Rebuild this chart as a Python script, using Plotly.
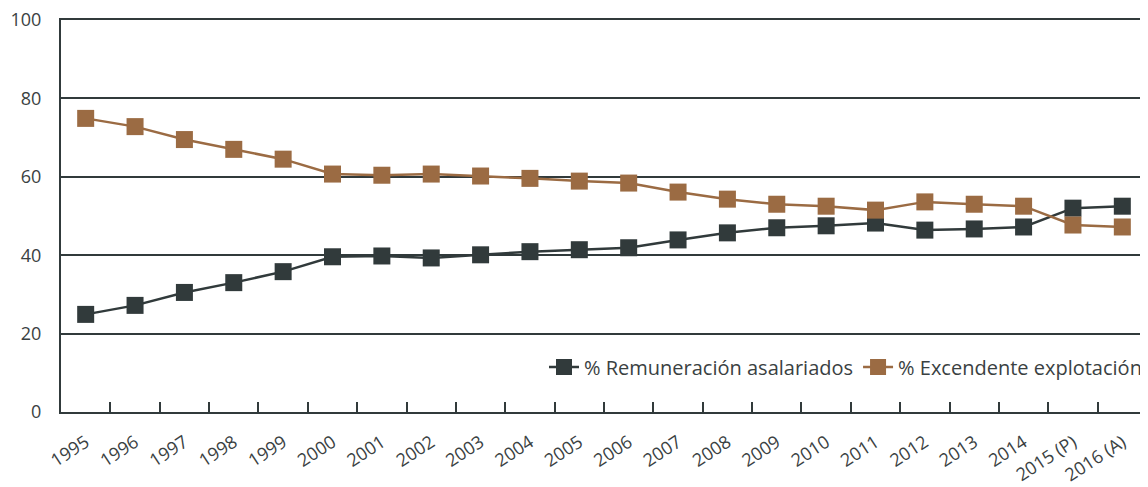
import plotly.graph_objects as go

# Jahre / Kategorien
anios = ["1995", "1996", "1997", "1998", "1999", "2000", "2001", "2002", "2003", "2004",
         "2005", "2006", "2007", "2008", "2009", "2010", "2011", "2012", "2013", "2014",
         "2015 (P)", "2016 (A)"]

remuneracion = [24.9, 27.2, 30.5, 33.0, 35.8, 39.6, 39.8, 39.3, 40.1, 40.9,
                41.4, 41.9, 43.9, 45.7, 47.0, 47.5, 48.2, 46.4, 46.7, 47.2,
                52.0, 52.5]

excedente = [74.9, 72.8, 69.5, 67.0, 64.5, 60.7, 60.4, 60.7, 60.2, 59.6,
             58.9, 58.4, 56.1, 54.3, 53.0, 52.5, 51.5, 53.6, 53.0, 52.5,
             47.7, 47.2]

y_ticks = [0, 20, 40, 60, 80, 100]

dunkel = "#313a3b"
braun = "#9b6b43"
text_farbe = "#3a4142"

fig = go.Figure()
fig.add_scatter(x=anios, y=remuneracion, mode="lines+markers", name="% Remuneración asalariados",
                line=dict(color=dunkel, width=2.5),
                marker=dict(symbol="square", size=17, color=dunkel))
fig.add_scatter(x=anios, y=excedente, mode="lines+markers", name="% Excendente explotación",
                line=dict(color=braun, width=2.5),
                marker=dict(symbol="square", size=17, color=braun))

# die Seite hat 8px Rand -> Figur etwas kleiner
fig.update_layout(
    width=1140, height=479,
    margin=dict(l=53, r=1, t=12, b=75),
    plot_bgcolor="white", paper_bgcolor="white",
    font=dict(family="Open Sans", size=18, color=text_farbe),
    showlegend=True,
    legend=dict(orientation="h", x=1.0, xanchor="right", y=0.115, yanchor="middle",
                font=dict(size=20, color=text_farbe), bgcolor="rgba(0,0,0,0)",
                itemwidth=30, tracegroupgap=0),
)
fig.update_xaxes(
    type="category", tickangle=-33, showgrid=False, automargin=False,
    showline=True, linecolor=dunkel, linewidth=2, mirror=True,
    ticks="inside", ticklen=10, tickwidth=1.5, tickcolor=dunkel, tickson="boundaries",
    tickfont=dict(size=18), ticklabelstandoff=11, range=[-0.5, len(anios) - 0.5],
)
fig.update_yaxes(
    range=[0, 100], tickvals=y_ticks, showgrid=True, gridcolor=dunkel, gridwidth=1.5,
    showline=True, linecolor=dunkel, linewidth=2, zeroline=False, automargin=False,
    ticks="", ticklabelstandoff=14, tickfont=dict(size=18), ticklabeloverflow="allow",
)

fig.write_html("out.html")
